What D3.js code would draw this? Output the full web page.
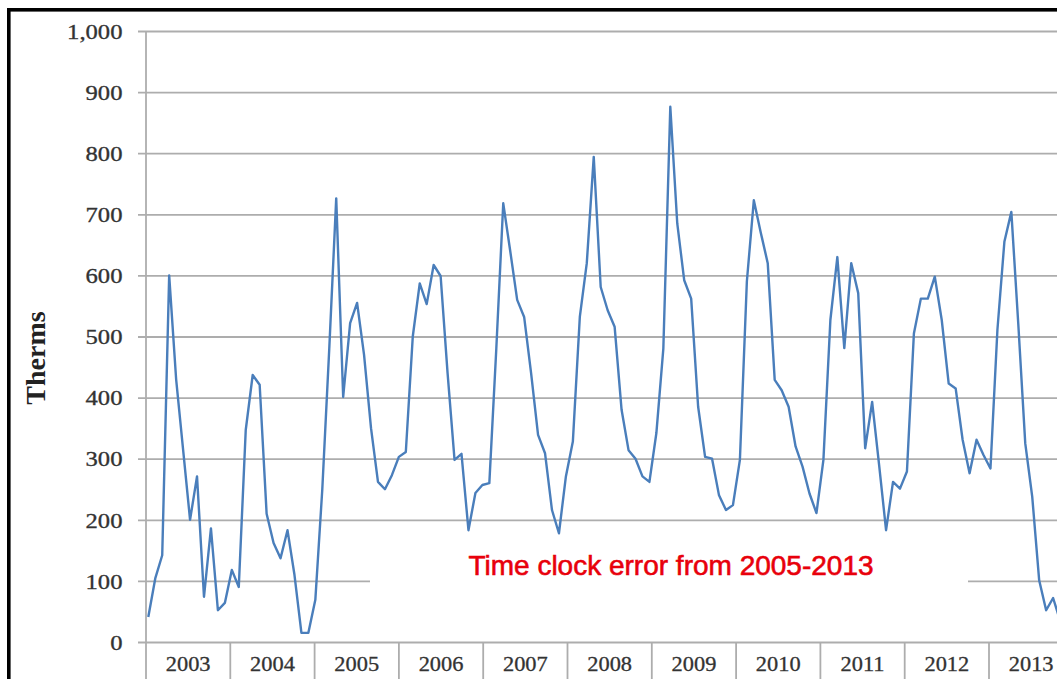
<!DOCTYPE html>
<html>
<head>
<meta charset="utf-8">
<script src="https://cdn.jsdelivr.net/npm/d3@7"></script>
<style>
  html, body { margin: 0; padding: 0; background: #fff; }
  svg { display: block; }
</style>
</head>
<body>
<svg id="chart" width="1057" height="679"></svg>
<script>
// year groups on the category axis
var years = ["2003", "2004", "2005", "2006", "2007", "2008", "2009", "2010", "2011", "2012", "2013"];

// monthly therms
var therms2003 = [41, 104, 142, 600, 430, 315, 200, 271, 74, 186, 52, 64];
var therms2004 = [118, 90, 347, 437, 421, 210, 162, 137, 183, 110, 15, 15];
var therms2005 = [69, 250, 480, 726, 401, 522, 555, 470, 350, 262, 250, 273];
var therms2006 = [303, 311, 500, 587, 553, 617, 599, 440, 298, 308, 183, 244];
var therms2007 = [257, 260, 480, 718, 640, 560, 532, 440, 339, 309, 216, 178];
var therms2008 = [271, 328, 532, 620, 794, 581, 543, 516, 380, 314, 300, 271];
var therms2009 = [262, 342, 480, 876, 685, 592, 562, 385, 303, 300, 240, 216];
var therms2010 = [224, 298, 590, 723, 670, 620, 429, 412, 385, 320, 287, 243];
var therms2011 = [211, 298, 527, 630, 481, 620, 571, 317, 393, 290, 183, 262];
var therms2012 = [251, 279, 505, 562, 562, 598, 527, 423, 415, 331, 276, 331];
var therms2013 = [306, 284, 511, 655, 704, 520, 325, 238, 101, 52, 72, 35];

var yTicks = [0, 100, 200, 300, 400, 500, 600, 700, 800, 900, 1000];
var note = "Time clock error from 2005-2013";

var therms = [].concat(therms2003, therms2004, therms2005, therms2006, therms2007,
    therms2008, therms2009, therms2010, therms2011, therms2012, therms2013);

var svg = d3.select("#chart"),
    width = +svg.attr("width"),
    height = +svg.attr("height");

var plotLeft = 146, plotTop = 31, plotBottom = 642,
    yearW = 84.3,
    firstX = 148.3, step = 6.96;

var y = d3.scaleLinear().domain([0, 1000]).range([plotBottom, plotTop]);
var xYear = d3.scaleBand().domain(years).range([plotLeft, plotLeft + yearW * years.length]);
var x = d3.scaleLinear().domain([0, therms.length - 1])
    .range([firstX, firstX + step * (therms.length - 1)]);

var serif = "'Liberation Serif', 'Times New Roman', serif";
var grey = "#adadad";
var labelCol = "#333";

svg.append("rect").attr("width", width).attr("height", height).attr("fill", "#fff");

// y axis with gridlines
var yAxis = d3.axisLeft(y)
    .tickValues(yTicks)
    .tickFormat(d3.format(","))
    .tickSize(-(width - plotLeft))
    .tickPadding(21);

var gy = svg.append("g")
    .attr("transform", "translate(" + plotLeft + ",0)")
    .call(yAxis);
gy.select(".domain").remove();
gy.selectAll(".tick line")
    .attr("x1", -8)
    .attr("stroke", grey)
    .attr("stroke-width", 1.8);
gy.selectAll(".tick text")
    .attr("fill", labelCol)
    .attr("stroke", labelCol)
    .attr("stroke-width", 0.35)
    .attr("font-family", serif)
    .attr("font-size", 22)
    .attr("dy", "0.33em")
    .attr("transform", "scale(1.12,1)");

// vertical axis line
svg.append("line")
    .attr("x1", plotLeft).attr("x2", plotLeft)
    .attr("y1", plotTop).attr("y2", height)
    .attr("stroke", grey).attr("stroke-width", 1.8);

// year dividers and labels
var gx = svg.append("g");
gx.selectAll("line.div")
    .data(years.slice(1))
    .enter().append("line")
    .attr("class", "div")
    .attr("x1", function(d) { return xYear(d); })
    .attr("x2", function(d) { return xYear(d); })
    .attr("y1", plotBottom).attr("y2", height)
    .attr("stroke", grey).attr("stroke-width", 1.8);

gx.selectAll("text.year")
    .data(years)
    .enter().append("text")
    .attr("class", "year")
    .attr("transform", function(d) {
        return "translate(" + (xYear(d) + xYear.bandwidth() / 2) + ",671) scale(1.12,1)";
    })
    .attr("text-anchor", "middle")
    .attr("fill", labelCol)
    .attr("stroke", labelCol)
    .attr("stroke-width", 0.3)
    .attr("font-family", serif)
    .attr("font-size", 20)
    .text(function(d) { return d; });

// axis title
svg.append("text")
    .attr("transform", "translate(45,358) rotate(-90)")
    .attr("text-anchor", "middle")
    .attr("font-family", serif)
    .attr("font-weight", "bold")
    .attr("font-size", 28)
    .attr("fill", "#222")
    .text("Therms");

// white note box that covers the 100 gridline
svg.append("rect")
    .attr("x", 370).attr("y", 538)
    .attr("width", 598).attr("height", 70)
    .attr("fill", "#fff");

// the series
var line = d3.line()
    .x(function(d, i) { return x(i); })
    .y(function(d) { return y(d); });

svg.append("path")
    .datum(therms)
    .attr("fill", "none")
    .attr("stroke", "#4a7ebb")
    .attr("stroke-width", 2.4)
    .attr("stroke-linejoin", "round")
    .attr("d", line);

svg.append("text")
    .attr("x", 671).attr("y", 575)
    .attr("text-anchor", "middle")
    .attr("font-family", "'Liberation Sans', Arial, sans-serif")
    .attr("font-size", 28)
    .attr("fill", "#e8000b")
    .attr("stroke", "#e8000b")
    .attr("stroke-width", 0.6)
    .text(note);

// outer black frame, cut off on the right and bottom
svg.append("rect")
    .attr("x", 8.8).attr("y", 9.8)
    .attr("width", width + 20).attr("height", height + 20)
    .attr("fill", "none")
    .attr("stroke", "#000")
    .attr("stroke-width", 3.6);
</script>
</body>
</html>
